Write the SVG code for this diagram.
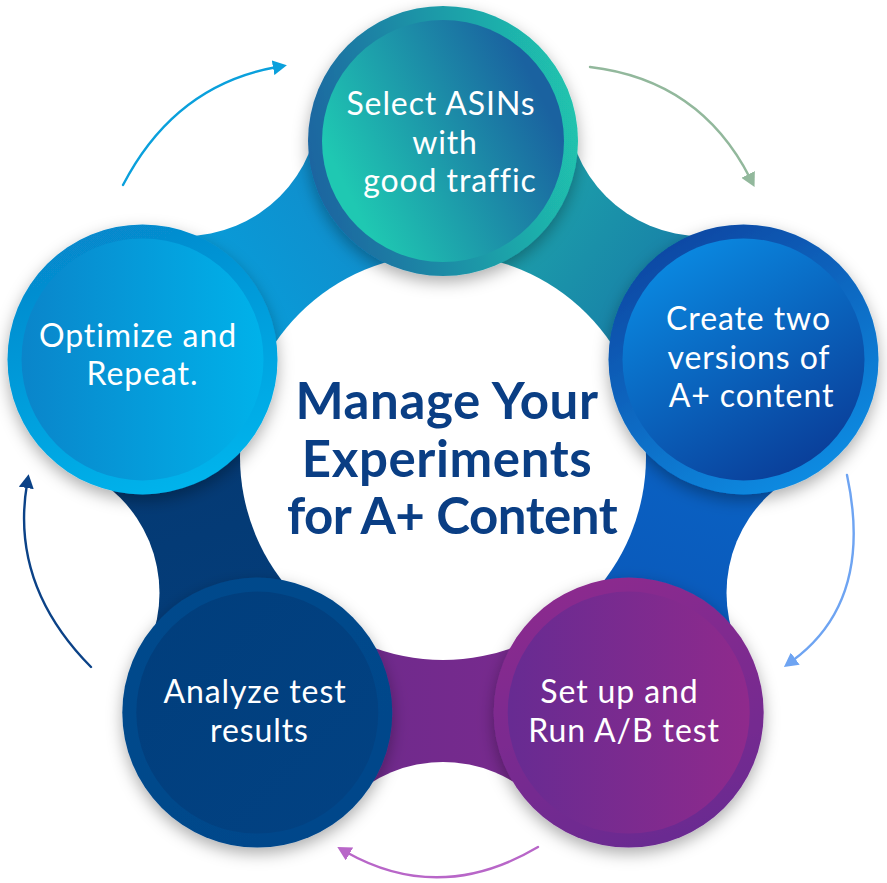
<svg xmlns="http://www.w3.org/2000/svg" width="887" height="883" viewBox="0 0 887 883">
<defs>
<style>
.lbl{font-family:Lato,"Open Sans","Liberation Sans",sans-serif;font-size:32px;letter-spacing:0.9px;fill:#fff;text-anchor:middle}
.ttl{font-family:Lato,"Open Sans","Liberation Sans",sans-serif;font-size:51px;letter-spacing:0.6px;font-weight:700;fill:#0a3e84;text-anchor:middle}
.arr{fill:none;stroke-width:2.4;stroke-linecap:round}
</style>
<filter id="sh" x="-25%" y="-25%" width="150%" height="150%">
<feDropShadow dx="0" dy="6" stdDeviation="8" flood-color="#000" flood-opacity="0.32"/>
</filter>
<linearGradient id="bA" gradientUnits="userSpaceOnUse" x1="142" y1="359" x2="443" y2="141"><stop offset="0" stop-color="#03a6e2"/><stop offset="1" stop-color="#1683c2"/></linearGradient>
<linearGradient id="bB" gradientUnits="userSpaceOnUse" x1="443" y1="141" x2="743" y2="359"><stop offset="0" stop-color="#1fb4ac"/><stop offset="1" stop-color="#156ca6"/></linearGradient>
<linearGradient id="bC" gradientUnits="userSpaceOnUse" x1="743" y1="359" x2="628" y2="712"><stop offset="0" stop-color="#0a66c8"/><stop offset="1" stop-color="#0a55b6"/></linearGradient>
<linearGradient id="bD" gradientUnits="userSpaceOnUse" x1="628" y1="712" x2="257" y2="712"><stop offset="0" stop-color="#7e2a8f"/><stop offset="1" stop-color="#692a8b"/></linearGradient>
<linearGradient id="bE" gradientUnits="userSpaceOnUse" x1="257" y1="712" x2="142" y2="359"><stop offset="0" stop-color="#033e7c"/><stop offset="1" stop-color="#053870"/></linearGradient>
<linearGradient id="o0" x1="0" y1="0.6" x2="1" y2="0.4"><stop offset="0" stop-color="#1b64a0"/><stop offset="1" stop-color="#20c4ae"/></linearGradient>
<linearGradient id="i0" x1="0.1" y1="0.7" x2="0.9" y2="0.3"><stop offset="0" stop-color="#1fc8b2"/><stop offset="1" stop-color="#1a62a0"/></linearGradient>
<linearGradient id="o1" x1="0.2" y1="0" x2="0.8" y2="1"><stop offset="0" stop-color="#0844a0"/><stop offset="1" stop-color="#0a90e6"/></linearGradient>
<linearGradient id="i1" x1="0.2" y1="0" x2="0.8" y2="1"><stop offset="0" stop-color="#0a8ce4"/><stop offset="1" stop-color="#0a3a95"/></linearGradient>
<linearGradient id="o2" x1="0.3" y1="0" x2="0.6" y2="1"><stop offset="0" stop-color="#8c2a8e"/><stop offset="1" stop-color="#6a2b91"/></linearGradient>
<linearGradient id="i2" x1="0" y1="0.5" x2="1" y2="0.5"><stop offset="0" stop-color="#672b92"/><stop offset="1" stop-color="#8f2a8c"/></linearGradient>
<linearGradient id="o3" x1="0" y1="0" x2="1" y2="1"><stop offset="0" stop-color="#044a8c"/><stop offset="1" stop-color="#03468a"/></linearGradient>
<linearGradient id="i3" x1="0" y1="0" x2="1" y2="1"><stop offset="0" stop-color="#013e7c"/><stop offset="1" stop-color="#024283"/></linearGradient>
<linearGradient id="o4" x1="0.3" y1="0" x2="0.7" y2="1"><stop offset="0" stop-color="#0787cb"/><stop offset="1" stop-color="#00b5ed"/></linearGradient>
<linearGradient id="i4" x1="0" y1="0.5" x2="1" y2="0.5"><stop offset="0" stop-color="#0a85ca"/><stop offset="1" stop-color="#00b2ea"/></linearGradient>
<marker id="mA" viewBox="0 0 14 15" refX="4" refY="7.5" markerWidth="14" markerHeight="15" markerUnits="userSpaceOnUse" orient="auto"><path d="M0,0 L14,7.5 L0,15 Z" fill="#0aa0dc"/></marker>
<marker id="mB" viewBox="0 0 14 15" refX="4" refY="7.5" markerWidth="14" markerHeight="15" markerUnits="userSpaceOnUse" orient="auto"><path d="M0,0 L14,7.5 L0,15 Z" fill="#92b89c"/></marker>
<marker id="mC" viewBox="0 0 14 15" refX="4" refY="7.5" markerWidth="14" markerHeight="15" markerUnits="userSpaceOnUse" orient="auto"><path d="M0,0 L14,7.5 L0,15 Z" fill="#6ea4f2"/></marker>
<marker id="mD" viewBox="0 0 14 15" refX="4" refY="7.5" markerWidth="14" markerHeight="15" markerUnits="userSpaceOnUse" orient="auto"><path d="M0,0 L14,7.5 L0,15 Z" fill="#b866c8"/></marker>
<marker id="mE" viewBox="0 0 14 15" refX="4" refY="7.5" markerWidth="14" markerHeight="15" markerUnits="userSpaceOnUse" orient="auto"><path d="M0,0 L14,7.5 L0,15 Z" fill="#0b4287"/></marker>
</defs>
<rect width="887" height="883" fill="#fff"/>
<g id="bands">
<path d="M443,457 L142.5,359.4 L184.4,101 L443,141 Z" fill="url(#bA)"/>
<path d="M443,457 L443,141 L701.6,101 L743.5,359.4 Z" fill="url(#bB)"/>
<path d="M443,457 L743.5,359.4 L861.5,593 L628.7,712.6 Z" fill="url(#bC)"/>
<path d="M443,457 L628.7,712.6 L443,897 L257.3,712.6 Z" fill="url(#bD)"/>
<path d="M443,457 L257.3,712.6 L24.5,593 L142.5,359.4 Z" fill="url(#bE)"/>
<g fill="#fff">
<circle cx="701.6" cy="101" r="135"/>
<circle cx="861.5" cy="593" r="135"/>
<circle cx="443" cy="897" r="135"/>
<circle cx="24.5" cy="593" r="135"/>
<circle cx="184.4" cy="101" r="135"/>
</g>
<circle id="center-blob" cx="443" cy="457" r="203" fill="#fff"/>
</g>
<g id="title">
<text class="ttl" x="447" y="419">Manage Your</text>
<text class="ttl" x="447" y="477">Experiments</text>
<text class="ttl" x="452" y="534" style="letter-spacing:-0.5px">for A+ Content</text>
</g>
<g id="node-select">
<circle cx="443" cy="141" r="135" fill="url(#o0)" filter="url(#sh)"/>
<circle cx="443" cy="141" r="121" fill="url(#i0)"/>
<text class="lbl" x="441" y="115">Select ASINs</text>
<text class="lbl" x="445" y="153.5">with</text>
<text class="lbl" x="450" y="192">good traffic</text>
</g>
<g id="node-create">
<circle cx="743.5" cy="359.4" r="135" fill="url(#o1)" filter="url(#sh)"/>
<circle cx="743.5" cy="359.4" r="121" fill="url(#i1)"/>
<text class="lbl" x="748.5" y="330">Create two</text>
<text class="lbl" x="749" y="368.5">versions of</text>
<text class="lbl" x="751.5" y="407">A+ content</text>
</g>
<g id="node-setup">
<circle cx="628.7" cy="712.6" r="135" fill="url(#o2)" filter="url(#sh)"/>
<circle cx="628.7" cy="712.6" r="121" fill="url(#i2)"/>
<text class="lbl" x="619.5" y="703">Set up and</text>
<text class="lbl" x="624" y="742">Run A/B test</text>
</g>
<g id="node-analyze">
<circle cx="257.3" cy="712.6" r="135" fill="url(#o3)" filter="url(#sh)"/>
<circle cx="257.3" cy="712.6" r="121" fill="url(#i3)"/>
<text class="lbl" x="255" y="703">Analyze test</text>
<text class="lbl" x="259.5" y="742">results</text>
</g>
<g id="node-optimize">
<circle cx="142.5" cy="359.4" r="135" fill="url(#o4)" filter="url(#sh)"/>
<circle cx="142.5" cy="359.4" r="121" fill="url(#i4)"/>
<text class="lbl" x="138" y="347">Optimize and</text>
<text class="lbl" x="142.5" y="385">Repeat.</text>
</g>
<g id="connectors">
<path class="arr" d="M123,185 Q175,85 277,67" stroke="#0aa0dc" marker-end="url(#mA)"/>
<path class="arr" d="M590,67 Q700,80 750,178" stroke="#92b89c" marker-end="url(#mB)"/>
<path class="arr" d="M847,475 C862,545 855,615 792,661" stroke="#6ea4f2" marker-end="url(#mC)"/>
<path class="arr" d="M538,847 Q440,905 346,852" stroke="#b866c8" marker-end="url(#mD)"/>
<path class="arr" d="M91,667 Q10,585 27,484" stroke="#0b4287" marker-end="url(#mE)"/>
</g>
</svg>
